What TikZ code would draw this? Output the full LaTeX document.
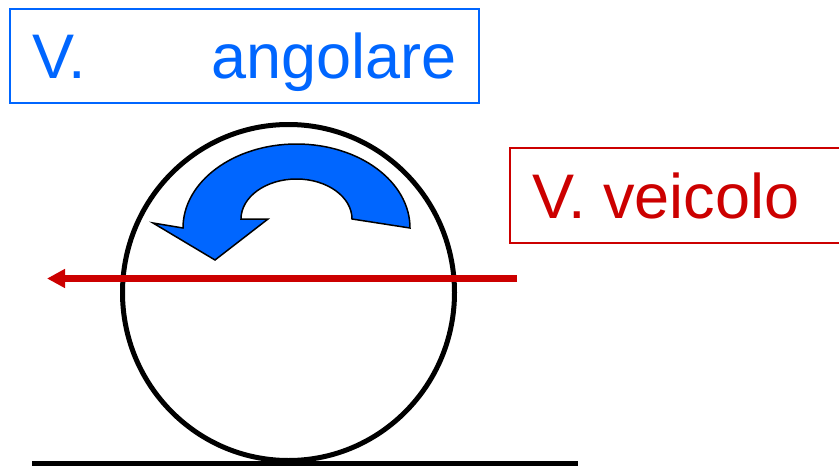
\documentclass[tikz,border=0pt]{standalone}
\usepackage{fontspec}
\setmainfont{Liberation Sans}
\usetikzlibrary{arrows.meta,shapes.geometric}
\definecolor{vblue}{HTML}{0066FF}
\definecolor{vred}{HTML}{CC0000}
\begin{document}
\begin{tikzpicture}[x=1pt,y=-1pt,
  labelbox/.style={draw, line width=2pt, rectangle, inner sep=0pt,
    text height=45pt, text depth=0pt, font=\fontsize{63}{70}\selectfont},
  wheel/.style={draw=black, line width=5pt},
  ground/.style={draw=black, line width=5pt},
  motion/.style={draw=vred, line width=6.5pt, -{Triangle[length=18pt,width=18pt]}},
  rotarrow/.style={fill=vblue, draw=black, line width=1.5pt, line join=miter}]
\useasboundingbox (0,0) rectangle (839,466);
\clip (0,0) rectangle (839,466);
% boxes
\node[labelbox, draw=vblue, text=vblue, anchor=north west,
  minimum width=469pt, minimum height=94pt] (ang) at (9,8)
  {\makebox[424pt][l]{V.\hfill angolare}};
\node[labelbox, draw=vred, text=vred, anchor=north west,
  minimum width=350pt, minimum height=95pt] (vei) at (509,147)
  {\hspace{18pt}\makebox[324pt][l]{V. veicolo}};
% wheel
\node[wheel, ellipse, minimum width=332pt, minimum height=336pt, inner sep=0pt] (whl) at (288.5,292.5) {};
\coordinate (g1) at (32,463.5);
\coordinate (g2) at (578,463.5);
\draw[ground] (g1) -- (g2);
% vehicle velocity arrow
\coordinate (va) at (517,278.5);
\coordinate (vb) at (47,278.5);
\draw[motion] (va) -- (vb);
% rotation arrow
\draw[rotarrow] (410,228) arc[start angle=0, end angle=-180, x radius=113.5, y radius=84]
  -- (153,223) -- (215,260) -- (268,219) -- (241,219)
  arc[start angle=180, end angle=360, x radius=55.5, y radius=40] -- cycle;
\end{tikzpicture}
\end{document}
